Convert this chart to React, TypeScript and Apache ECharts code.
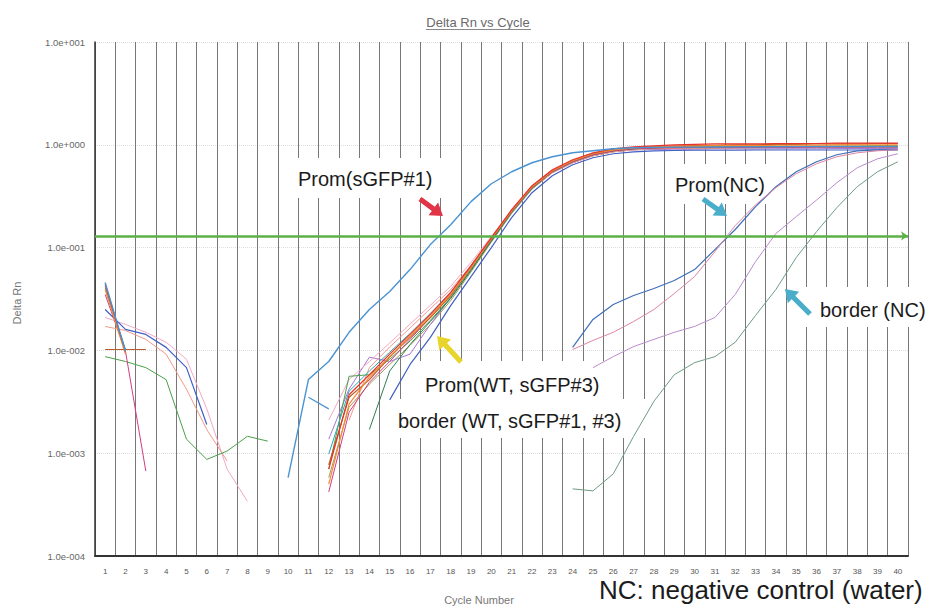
import React, { useEffect, useRef } from "react";
import * as echarts from "echarts";

const _ = null;

const cycleLabels = [
  "1", "2", "3", "4", "5", "6", "7", "8", "9", "10",
  "11", "12", "13", "14", "15", "16", "17", "18", "19", "20",
  "21", "22", "23", "24", "25", "26", "27", "28", "29", "30",
  "31", "32", "33", "34", "35", "36", "37", "38", "39", "40",
];

const yTickLabels: Record<string, string> = {
  "-4": "1.0e-004",
  "-3": "1.0e-003",
  "-2": "1.0e-002",
  "-1": "1.0e-001",
  "0": "1.0e+000",
  "1": "1.0e+001",
};

const threshold = 0.125;

// Prom(sGFP#1)
const promSgfp1 = [0.0457, 0.0098, _, _, _, _, _, _, _,
  0.00058, 0.0052, 0.0078, 0.015, 0.025, 0.0374, 0.0611, 0.107, 0.167, 0.28,
  0.418, 0.547, 0.669, 0.765, 0.836, 0.874, 0.915, 0.935, 0.945, 0.95,
  0.95, 0.95, 0.955, 0.955, 0.955, 0.96, 0.96, 0.96, 0.96, 0.96, 0.96];
const promSgfp1b = [_, _, _, _, _, _, _, _, _, _, 0.0035, 0.0027, _, _, _, _, _, _, _, _,
  _, _, _, _, _, _, _, _, _, _, _, _, _, _, _, _, _, _, _, _];

// WT / sGFP#3 / border cluster
const wtRed = [0.0437, 0.0098, _, _, _, _, _, _, _, _, _,
  0.0007, 0.0037, 0.0058, 0.0092, 0.0143, 0.0224, 0.0366, 0.0669,
  0.125, 0.234, 0.4, 0.572, 0.715, 0.836, 0.915, 0.956, 0.978, 1.0,
  1.01, 1.02, 1.02, 1.02, 1.03, 1.03, 1.03, 1.04, 1.04, 1.04, 1.04];
const wtOrange = [0.0391, 0.0092, _, _, _, _, _, _, _, _, _,
  0.0005, 0.003, 0.0055, 0.0087, 0.0137, 0.0214, 0.035, 0.064,
  0.122, 0.229, 0.391, 0.56, 0.7, 0.818, 0.894, 0.935, 0.956, 0.97,
  0.97, 0.98, 0.98, 0.98, 0.99, 0.99, 0.99, 1.0, 1.0, 1.0, 1.0];
const wtSalmon = [0.0171, 0.0156, 0.0128, 0.0092, 0.0042, 0.0017, 0.00084, _, _, _, _, _,
  0.0021, 0.0068, 0.0108, 0.0165, 0.0255, 0.039, 0.067,
  0.12, 0.224, 0.374, 0.535, 0.669, 0.782, 0.855, 0.894, 0.915, 0.925,
  0.93, 0.93, 0.935, 0.94, 0.94, 0.945, 0.95, 0.95, 0.955, 0.955, 0.96];
const wtGreen = [0.0087, 0.0078, 0.0068, 0.0052, 0.00137, 0.00087, 0.00105, 0.00146, 0.00131, _, _,
  0.0007, 0.0056, 0.0058, 0.0082, 0.0123, 0.0196, 0.0327, 0.0611,
  0.115, 0.219, 0.374, 0.547, 0.684, 0.8, 0.874, 0.915, 0.935, 0.945,
  0.95, 0.95, 0.955, 0.955, 0.96, 0.96, 0.96, 0.965, 0.965, 0.97, 0.97];
const wtMagenta = [0.035, 0.0098, 0.00067, _, _, _, _, _, _, _, _,
  0.00042, 0.0025, 0.0049, 0.0078, 0.0128, 0.0209, 0.0342, 0.064,
  0.12, 0.224, 0.383, 0.547, 0.684, 0.8, 0.874, 0.915, 0.93, 0.935,
  0.94, 0.94, 0.94, 0.945, 0.945, 0.945, 0.95, 0.95, 0.95, 0.95, 0.95];
const wtLightPink = [0.0209, 0.0179, 0.015, 0.012, 0.0082, 0.0027, 0.0007, 0.00034, _, _, _,
  0.0021, 0.0052, 0.0078, 0.0118, 0.018, 0.0275, 0.042, 0.072,
  0.128, 0.234, 0.391, 0.56, 0.7, 0.818, 0.894, 0.935, 0.945, 0.95,
  0.95, 0.955, 0.955, 0.96, 0.96, 0.96, 0.965, 0.965, 0.965, 0.97, 0.97];
const wtLavender = [_, _, _, _, _, _, _, _, _, _, _,
  0.00137, 0.0042, 0.0086, 0.0078, 0.0092, 0.0179, 0.0327, 0.0611,
  0.117, 0.219, 0.374, 0.535, 0.669, 0.782, 0.855, 0.894, 0.9, 0.905,
  0.905, 0.91, 0.91, 0.91, 0.915, 0.915, 0.915, 0.92, 0.92, 0.92, 0.92];
const wtBlue = [0.025, 0.016, 0.0143, 0.0107, 0.0068, 0.0019, _, _, _, _, _, _, _, _,
  0.0033, 0.0073, 0.0134, 0.0273, 0.0523,
  0.1, 0.196, 0.342, 0.5, 0.64, 0.748, 0.818, 0.855, 0.874, 0.88,
  0.885, 0.885, 0.885, 0.89, 0.89, 0.89, 0.89, 0.89, 0.89, 0.895, 0.895];
const wtTeal = [0.0409, 0.0102, _, _, _, _, _, _, _, _, _,
  0.00098, 0.004, 0.0063, 0.0096, 0.0146, 0.0229, 0.0366, 0.0654,
  0.12, 0.229, 0.391, 0.56, 0.7, 0.818, 0.894, 0.935, 0.945, 0.95,
  0.95, 0.955, 0.955, 0.955, 0.96, 0.96, 0.96, 0.96, 0.965, 0.965, 0.965];
const wtOlive = [_, _, _, _, _, _, _, _, _, _, _,
  0.00058, 0.0028, 0.0047, 0.0073, 0.0112, 0.0178, 0.0305, 0.058,
  0.113, 0.215, 0.37, 0.535, 0.669, 0.782, 0.855, 0.894, 0.91, 0.92,
  0.925, 0.925, 0.93, 0.93, 0.935, 0.935, 0.94, 0.94, 0.94, 0.945, 0.945];
const wtBrown = [0.0102, 0.0102, 0.0102, _, _, _, _, _, _, _, _,
  0.00077, 0.0035, 0.0052, 0.0086, 0.0134, 0.0209, 0.0342, 0.064,
  0.122, 0.229, 0.391, 0.56, 0.7, 0.818, 0.894, 0.935, 0.956, 0.97,
  0.98, 0.99, 1.0, 1.0, 1.01, 1.01, 1.02, 1.02, 1.02, 1.03, 1.03];
const wtDarkGreen = [_, _, _, _, _, _, _, _, _, _, _, _, _,
  0.0017, 0.0063, 0.0114, 0.0191, 0.032, 0.0598,
  0.117, 0.224, 0.383, 0.547, 0.684, 0.8, 0.874, 0.915, 0.935, 0.945,
  0.95, 0.955, 0.96, 0.96, 0.965, 0.965, 0.97, 0.97, 0.97, 0.975, 0.975];

// Negative controls
const promNcBlue = [_, _, _, _, _, _, _, _, _, _, _, _, _, _, _, _, _, _, _, _, _, _, _,
  0.0107, 0.02, 0.028, 0.0342, 0.04, 0.0478, 0.0611, 0.0957, 0.15, 0.25, 0.391,
  0.547, 0.684, 0.8, 0.874, 0.894, 0.894];
const promNcPink = [_, _, _, _, _, _, _, _, _, _, _, _, _, _, _, _, _, _, _, _, _, _, _,
  0.0102, 0.0125, 0.015, 0.0191, 0.025, 0.0357, 0.0523, 0.0914, 0.164, 0.261, 0.383,
  0.523, 0.654, 0.765, 0.836, 0.874, 0.894];
const borderNc1 = [_, _, _, _, _, _, _, _, _, _, _, _, _, _, _, _, _, _, _, _, _, _, _, _,
  0.0068, 0.0087, 0.0109, 0.0128, 0.015, 0.0171, 0.0209, 0.035, 0.0731, 0.137,
  0.2, 0.29, 0.428, 0.598, 0.731, 0.818];
const borderNc2 = [_, _, _, _, _, _, _, _, _, _, _, _, _, _, _, _, _, _, _, _, _, _, _,
  0.00045, 0.00043, 0.00063, 0.00146, 0.0032, 0.0058, 0.0076, 0.0087, 0.012, 0.0219, 0.0391,
  0.08, 0.143, 0.245, 0.391, 0.547, 0.684];

const curves = [
  { name: "WT olive", data: wtOlive, color: "#9a9a5a", width: 1 },
  { name: "WT lavender", data: wtLavender, color: "#a879d4", width: 1 },
  { name: "WT light pink", data: wtLightPink, color: "#f2a9c6", width: 1 },
  { name: "WT salmon", data: wtSalmon, color: "#f3998a", width: 1 },
  { name: "WT green", data: wtGreen, color: "#4aa04a", width: 1 },
  { name: "WT dark green", data: wtDarkGreen, color: "#2e7d52", width: 1 },
  { name: "WT teal", data: wtTeal, color: "#2aaab3", width: 1 },
  { name: "WT blue", data: wtBlue, color: "#4060c4", width: 1.2 },
  { name: "WT magenta", data: wtMagenta, color: "#d23c82", width: 1 },
  { name: "WT brown", data: wtBrown, color: "#b85c2c", width: 1.2 },
  { name: "WT orange", data: wtOrange, color: "#f28a30", width: 1.2 },
  { name: "WT red", data: wtRed, color: "#e8322b", width: 1.2 },
  { name: "Prom(sGFP#1)", data: promSgfp1, color: "#4a93d2", width: 1.4 },
  { name: "Prom(sGFP#1) b", data: promSgfp1b, color: "#4a93d2", width: 1.2 },
  { name: "Prom(NC)", data: promNcBlue, color: "#3f6fb9", width: 1.2 },
  { name: "Prom(NC) b", data: promNcPink, color: "#dc86a2", width: 1 },
  { name: "border(NC)", data: borderNc1, color: "#b98ccb", width: 1 },
  { name: "border(NC) b", data: borderNc2, color: "#6f9c82", width: 1 },
];

type Pt = [number, number];
function arrowShape(x1: number, y1: number, x2: number, y2: number, color: string) {
  const dx = x2 - x1;
  const dy = y2 - y1;
  const len = Math.sqrt(dx * dx + dy * dy);
  const ux = dx / len;
  const uy = dy / len;
  const px = -uy;
  const py = ux;
  const h = 12;
  const w = 8;
  const s = 2.6;
  const nx = x2 - ux * h;
  const ny = y2 - uy * h;
  const points: Pt[] = [
    [x1 + px * s, y1 + py * s],
    [nx + px * s, ny + py * s],
    [nx + px * w, ny + py * w],
    [x2, y2],
    [nx - px * w, ny - py * w],
    [nx - px * s, ny - py * s],
    [x1 - px * s, y1 - py * s],
  ];
  return { type: "polygon", z: 10, shape: { points }, style: { fill: color } };
}

const FONT = '"Liberation Sans", Arial, sans-serif';

export default function App() {
  const ref = useRef<HTMLDivElement>(null);

  useEffect(() => {
    const chart = echarts.init(ref.current!, null, { renderer: "svg" });

    const whiteBox = (x: number, y: number, w: number, h: number) => ({
      type: "rect",
      z: 1,
      shape: { x, y, width: w, height: h },
      style: { fill: "#ffffff" },
    });
    const label = (text: string, x: number, y: number, size = 20) => ({
      type: "text",
      z: 10,
      x,
      y,
      style: {
        text,
        fill: "#1b1b1b",
        font: `${size}px ${FONT}`,
        textAlign: "left",
        textVerticalAlign: "middle",
      },
    });

    const series: any[] = curves.map((c, i) => ({
      name: c.name,
      type: "line",
      data: c.data,
      showSymbol: false,
      symbol: "none",
      connectNulls: false,
      silent: true,
      lineStyle: { color: c.color, width: c.width },
      itemStyle: { color: c.color },
      ...(i === 0
        ? {
            markLine: {
              silent: true,
              symbol: ["none", "arrow"],
              symbolSize: 7,
              label: { show: false },
              lineStyle: { color: "#5bb047", width: 2.5, type: "solid" },
              data: [{ yAxis: threshold }],
            },
          }
        : {}),
    }));

    chart.setOption({
      animation: false,
      backgroundColor: "#ffffff",
      grid: { left: 95, right: 20, top: 42, bottom: 52, containLabel: false },
      xAxis: {
        type: "category",
        data: cycleLabels,
        boundaryGap: true,
        axisLine: { show: true, lineStyle: { color: "#333", width: 2 } },
        axisTick: { show: false },
        axisLabel: {
          interval: 0,
          margin: 11,
          fontSize: 8,
          color: "#555",
          fontFamily: FONT,
        },
        splitLine: {
          show: true,
          interval: 0,
          lineStyle: { color: "#777777", width: 1 },
        },
      },
      yAxis: {
        type: "log",
        logBase: 10,
        min: 0.0001,
        max: 10,
        axisLine: { show: true, lineStyle: { color: "#333", width: 1.5 } },
        axisTick: { show: false },
        axisLabel: {
          margin: 10,
          fontSize: 9.5,
          color: "#666",
          fontFamily: FONT,
          formatter: (v: number) => yTickLabels[String(Math.round(Math.log10(v)))] ?? "",
        },
        splitLine: {
          show: true,
          lineStyle: { color: "#dddddd", width: 1, type: "dotted" },
        },
      },
      series,
      graphic: [
        {
          type: "text",
          z: 10,
          x: 478,
          y: 22,
          style: {
            text: "Delta Rn vs Cycle",
            fill: "#6a6a6a",
            font: `13px ${FONT}`,
            textAlign: "center",
            textVerticalAlign: "middle",
          },
        },
        {
          type: "line",
          z: 10,
          shape: { x1: 426, y1: 29.5, x2: 531, y2: 29.5 },
          style: { stroke: "#888", lineWidth: 1 },
        },
        {
          type: "text",
          z: 10,
          x: 17,
          y: 303,
          rotation: Math.PI / 2,
          style: {
            text: "Delta Rn",
            fill: "#777",
            font: `11px ${FONT}`,
            textAlign: "center",
            textVerticalAlign: "middle",
          },
        },
        {
          type: "text",
          z: 10,
          x: 479,
          y: 600,
          style: {
            text: "Cycle Number",
            fill: "#777",
            font: `11px ${FONT}`,
            textAlign: "center",
            textVerticalAlign: "middle",
          },
        },
        whiteBox(290, 158, 165, 40),
        whiteBox(670, 164, 102, 40),
        whiteBox(800, 287, 128, 40),
        whiteBox(415, 361, 197, 40),
        whiteBox(392, 399, 258, 39),
        label("Prom(sGFP#1)", 298, 179),
        label("Prom(NC)", 675, 185),
        label("border (NC)", 820, 310),
        label("Prom(WT, sGFP#3)", 425, 385),
        label("border (WT, sGFP#1, #3)", 398, 421),
        label("NC: negative control (water)", 599, 590, 26),
        arrowShape(420, 199, 443, 216, "#e23447"),
        arrowShape(703, 199, 727, 216, "#4aaecb"),
        arrowShape(810, 314, 785, 289, "#4aaecb"),
        arrowShape(461, 362, 437, 336, "#e8d42a"),
      ],
    });

    return () => chart.dispose();
  }, []);

  return (
    <div
      ref={ref}
      style={{ position: "absolute", left: 0, top: 0, width: 928, height: 608, background: "#fff" }}
    />
  );
}
